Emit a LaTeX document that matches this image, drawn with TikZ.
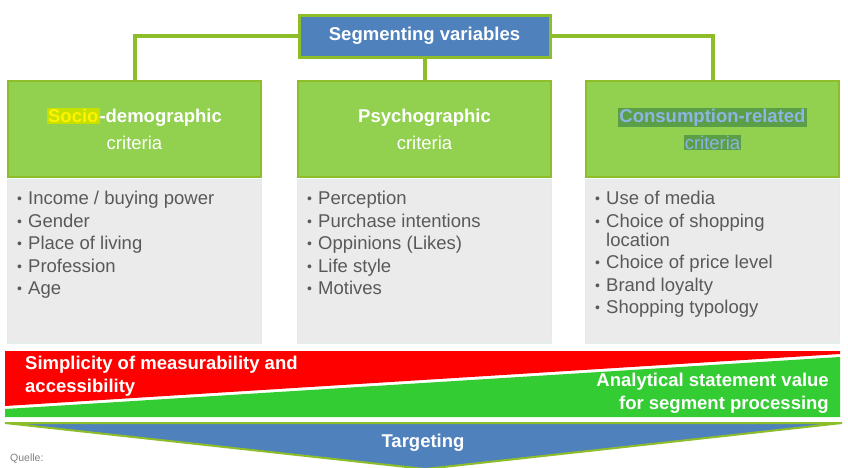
\documentclass[tikz,border=0pt]{standalone}
\usepackage{fontspec}
\setmainfont{Liberation Sans}
\usetikzlibrary{positioning}

\definecolor{segblue}{HTML}{4F81BD}
\definecolor{linegreen}{HTML}{8DBE2A}
\definecolor{headgreen}{HTML}{92D050}
\definecolor{bodygrey}{HTML}{EBEBEB}
\definecolor{bodyedge}{HTML}{DDEEEC}
\definecolor{textgrey}{HTML}{595959}
\definecolor{barred}{HTML}{FF0000}
\definecolor{bargreen}{HTML}{33CC33}
\definecolor{hlyellow}{HTML}{C6E000}
\definecolor{hldark}{HTML}{5A9E48}
\definecolor{hlblue}{HTML}{8EB4E3}

\newcommand{\bigfont}{\fontsize{18.5}{22.5}\selectfont}
\newcommand{\hl}[3]{{\setlength{\fboxsep}{1pt}\colorbox{#1}{\textcolor{#2}{#3}}}}
\newcommand{\bul}{\makebox[11pt][l]{\fontsize{14}{14}\selectfont\raisebox{1pt}{•}}}

\begin{document}
\begin{tikzpicture}[x=1pt,y=-1pt,
    topbox/.style={draw=linegreen, line width=3pt, fill=segblue, text=white,
        minimum width=251pt, minimum height=42pt, font=\bigfont\bfseries},
    headbox/.style={draw=linegreen, line width=2pt, fill=headgreen, text=white,
        minimum width=253pt, minimum height=96pt, align=center,
        font=\fontsize{18.5}{27}\selectfont},
    bodybox/.style={draw=bodyedge, line width=1pt, fill=bodygrey,
        minimum width=254pt, minimum height=164pt},
    listtext/.style={anchor=north west, inner sep=0pt, align=left,
        text=textgrey, font=\bigfont},
    connector/.style={draw=linegreen, line width=4pt},
    bartext/.style={text=white, inner sep=0pt, font=\bigfont\bfseries}
]
\useasboundingbox (0,0) rectangle (848,467);

% Segmenting variables
\node[topbox] (seg) at (424.5,36) {Segmenting variables};

% criteria headers
\node[headbox] (socio) at (134.5,129)
    {{\bfseries\hl{hlyellow}{yellow}{Socio}-demographic}\\criteria};
\node[headbox] (psycho) at (424.5,129) {{\bfseries Psychographic}\\criteria};
\node[headbox] (consum) at (712.5,129)
    {\hl{hldark}{hlblue}{\bfseries Consumption-related}\\\hl{hldark}{hlblue}{criteria}};

% connectors
\draw[connector] (seg.west) -| (socio.north);
\draw[connector] (seg.east) -| (consum.north);
\draw[connector] (seg.south) -- (psycho.north);

% lists
\node[bodybox, below=1pt of socio] (socioB) {};
\node[bodybox, below=1pt of psycho] (psychoB) {};
\node[bodybox, below=1pt of consum] (consumB) {};

\node[listtext] (socioL) at ([xshift=10pt, yshift=-12pt]socioB.north west)
    {\bul Income / buying power\\ \bul Gender\\ \bul Place of living\\
     \bul Profession\\ \bul Age};
\node[listtext] (psychoL) at ([xshift=10pt, yshift=-12pt]psychoB.north west)
    {\bul Perception\\ \bul Purchase intentions\\ \bul Oppinions (Likes)\\
     \bul Life style\\ \bul Motives};
\node[listtext] (consumL) at ([xshift=10pt, yshift=-12pt]consumB.north west)
    {\bul Use of media\\ \bul Choice of shopping\\[-3.5pt] \hspace*{11pt}location\\
     \bul Choice of price level\\ \bul Brand loyalty\\ \bul Shopping typology};

% red and green wedges
\fill[barred] (5,351) -- (840,351) -- (840,354) -- (5,406) -- cycle;
\fill[bargreen] (5,409) -- (840,357) -- (840,417) -- (5,417) -- cycle;
\node[bartext, anchor=west, align=left] (simple) at (25,376)
    {Simplicity of measurability and\\accessibility};
\node[bartext, anchor=east, align=right] (analyt) at (829,393)
    {Analytical statement value\\for segment processing};

% Targeting
\draw[linegreen, line width=2pt, fill=segblue] (5,423) -- (842,423) -- (425,469) -- cycle;
\node[bartext] (target) at (423,443) {Targeting};

\node[anchor=west, inner sep=0pt, text=gray, font=\fontsize{10.5}{10.5}\selectfont] (quelle)
    at (10,459) {Quelle:};
\end{tikzpicture}
\end{document}
